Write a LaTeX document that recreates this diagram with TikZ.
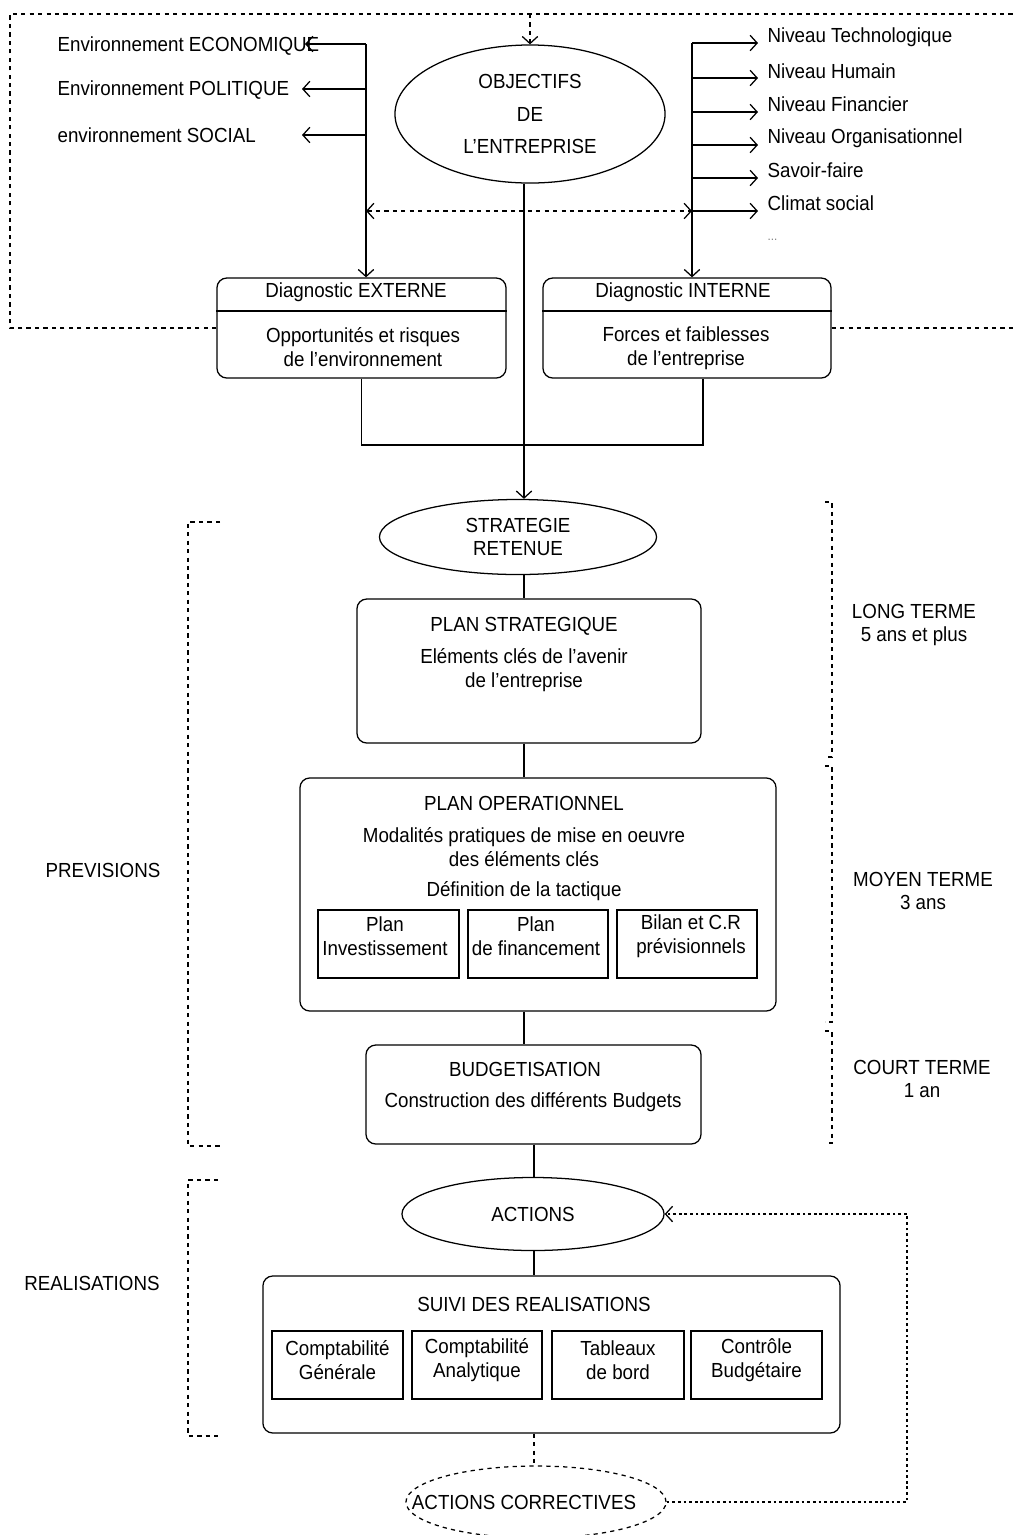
\documentclass[tikz,border=0pt]{standalone}
\usepackage{fontspec}
\setmainfont{Liberation Sans}[FakeStretch=0.92]
\usetikzlibrary{arrows.meta,shapes.geometric,calc}

\begin{document}
\begin{tikzpicture}[x=0.025cm, y=-0.025cm, line width=0.9pt,
    >={Straight Barb[length=5pt,width=11pt]},
    font=\fontsize{14.5}{17}\selectfont,
    boite/.style={draw, rounded corners=7pt, inner sep=0pt},
    cadre/.style={draw, inner sep=0pt},
    bulle/.style={draw, ellipse, inner sep=0pt, align=center},
    txt/.style={align=center, inner sep=0pt},
    tiret/.style={dash pattern=on 3pt off 3pt},
    pointille/.style={dash pattern=on 2pt off 2pt}]
        \useasboundingbox (0,0) rectangle (1013,1535);
        % axes of the central column
        \coordinate (axe) at (524,0);
        \coordinate (axeb) at (534,0);
        \coordinate (haut) at (0,14);
        \coordinate (milieu) at (0,211);
        \coordinate (jn) at (524,445);
        \coordinate (retour) at (907,0);

        % objectives and diagnostics
        \node[bulle, minimum width=6.75cm, minimum height=3.45cm] (obj) at (530,114) {OBJECTIFS\\[6pt]DE\\[6pt]L'ENTREPRISE};
        \node[boite, minimum width=7.225cm, minimum height=2.5cm] (ext) at (361.5,328) {};
        \node[boite, minimum width=7.2cm, minimum height=2.5cm] (int) at (687,328) {};
        \coordinate (sep) at (0,311);
        \draw (ext.west |- sep) -- (ext.east |- sep);
        \draw (int.west |- sep) -- (int.east |- sep);
        \node[txt] (exttitre) at (356,292) {Diagnostic EXTERNE};
        \node[txt] (extcorps) at (363,347) {Opportunités et risques\\de l'environnement};
        \node[txt] (inttitre) at (683,292) {Diagnostic INTERNE};
        \node[txt] (intcorps) at (686,348) {Forces et faiblesses\\de l'entreprise};

        % environment (left)
        \node[txt, anchor=west] (env1) at (57,46) {Environnement ECONOMIQUE};
        \node[txt, anchor=west] (env2) at (57,90) {Environnement POLITIQUE};
        \node[txt, anchor=west] (env3) at (57,135) {environnement SOCIAL};
        \coordinate (g1) at (366,44);
        \coordinate (g2) at (366,89);
        \coordinate (g3) at (366,135);
        \draw[->] (g1) -- (g1 |- ext.north);
        \draw[->] (g1) -- (305,44);
        \draw[->] (g2) -- (302,89);
        \draw[->] (g3) -- (302,135);

        % levels (right)
        \node[txt, anchor=west] (niv1) at (767,37) {Niveau Technologique};
        \node[txt, anchor=west] (niv2) at (767,71) {Niveau Humain};
        \node[txt, anchor=west] (niv3) at (767,104) {Niveau Financier};
        \node[txt, anchor=west] (niv4) at (767,138) {Niveau Organisationnel};
        \node[txt, anchor=west] (niv5) at (767,170) {Savoir-faire};
        \node[txt, anchor=west] (niv6) at (767,203) {Climat social};
        \node[txt, anchor=west, text=gray, font=\small] (niv7) at (767,240) {...};
        \coordinate (d1) at (692,43);
        \draw[->] (d1) -- (d1 |- int.north);
        \draw[->] (d1) -- (758,43);
        \draw[->] (692,78) -- (758,78);
        \draw[->] (692,112) -- (758,112);
        \draw[->] (692,145) -- (758,145);
        \draw[->] (692,178) -- (758,178);
        \draw[->] (692,211) -- (758,211);
        \draw[tiret,<->] (g1 |- milieu) -- (d1 |- milieu);

        % dashed frame of the diagnosis
        \draw[tiret] (ext.west) -- (10,328) -- (10,14) -- (1013,14);
        \draw[tiret] (int.east) -- (1013,328);
        \draw[tiret,->] (obj.north |- haut) -- (obj.north);

        % strategy
        \node[bulle, minimum width=6.925cm, minimum height=1.875cm] (strat) at (518,537) {STRATEGIE\\RETENUE};
        \draw[->] (axe |- obj.south) -- (axe |- strat.north);
        \draw (ext.south) |- (jn) -| ($(int.south)+(16,0)$);

        % plans
        \node[boite, minimum width=8.6cm, minimum height=3.6cm] (pstrat) at (529,671) {};
        \node[txt] (pstrattitre) at (524,626) {PLAN STRATEGIQUE};
        \node[txt] (pstratcorps) at (524,670) {Eléments clés de l'avenir\\de l'entreprise};
        \node[boite, minimum width=11.9cm, minimum height=5.825cm] (pop) at (538,894.5) {};
        \node[txt] (poptitre) at (524,803) {PLAN OPERATIONNEL};
        \node[txt] (popcorps) at (524,847) {Modalités pratiques de mise en oeuvre\\des éléments clés};
        \node[txt] (poptact) at (524,891) {Définition de la tactique};
        \node[cadre, minimum width=3.525cm, minimum height=1.7cm] (pinv) at (388.5,944) {};
        \node[cadre, minimum width=3.5cm, minimum height=1.7cm] (pfin) at (538,944) {};
        \node[cadre, minimum width=3.5cm, minimum height=1.7cm] (pbil) at (687,944) {};
        \node[txt] (pinvtxt) at (385,936) {Plan\\Investissement};
        \node[txt] (pfintxt) at (536,936) {Plan\\de financement};
        \node[txt] (pbiltxt) at (691,936) {Bilan et C.R\\prévisionnels};
        \node[boite, minimum width=8.375cm, minimum height=2.475cm] (budg) at (533.5,1094.5) {};
        \node[txt] (budgtitre) at (525,1069) {BUDGETISATION};
        \node[txt] (budgcorps) at (533,1102) {Construction des différents Budgets};
        \draw (axe |- strat.south) -- (axe |- pstrat.north);
        \draw (axe |- pstrat.south) -- (axe |- pop.north);
        \draw (axe |- pop.south) -- (axe |- budg.north);

        % realisations
        \node[bulle, minimum width=6.55cm, minimum height=1.825cm] (act) at (533,1214) {ACTIONS};
        \node[boite, minimum width=14.425cm, minimum height=3.925cm] (suivi) at (551.5,1354.5) {};
        \node[txt] (suivititre) at (534,1304) {SUIVI DES REALISATIONS};
        \node[cadre, minimum width=3.275cm, minimum height=1.7cm] (cgen) at (337.5,1365) {};
        \node[cadre, minimum width=3.25cm, minimum height=1.7cm] (cana) at (477,1365) {};
        \node[cadre, minimum width=3.3cm, minimum height=1.7cm] (tab) at (618,1365) {};
        \node[cadre, minimum width=3.275cm, minimum height=1.7cm] (cbud) at (756.5,1365) {};
        \node[txt] (cgentxt) at (337.5,1360) {Comptabilité\\Générale};
        \node[txt] (canatxt) at (477,1360) {Comptabilité\\Analytique};
        \node[txt] (tabtxt) at (618,1360) {Tableaux\\de bord};
        \node[txt] (cbudtxt) at (756.5,1360) {Contrôle\\Budgétaire};
        \node[bulle, tiret, minimum width=6.5cm, minimum height=1.8cm] (corr) at (536,1502) {};
        \node[txt] (corrtxt) at (524,1502) {ACTIONS CORRECTIVES};
        \draw (axeb |- budg.south) -- (axeb |- act.north);
        \draw (axeb |- act.south) -- (axeb |- suivi.north);
        \draw[tiret] (axeb |- suivi.south) -- (axeb |- corr.north);
        \draw[pointille,->] (corr.east) -| (retour |- act.east) -- (act.east);

        % horizons
        \draw[tiret] (220,522) -- (188,522) -- (188,1146) -- (220,1146);
        \draw[tiret] (218,1180) -- (188,1180) -- (188,1436) -- (218,1436);
        \node[txt] (prev) at (103,870) {PREVISIONS};
        \node[txt] (real) at (92,1283) {REALISATIONS};
        \draw[tiret] (825,502) -- (832,502) -- (832,757) -- (825,757);
        \draw[tiret] (825,766) -- (832,766) -- (832,1022) -- (825,1022);
        \draw[tiret] (825,1031) -- (832,1031) -- (832,1143) -- (825,1143);
        \node[txt] (long) at (914,625) {LONG TERME\\5 ans et plus};
        \node[txt] (moyen) at (923,891) {MOYEN TERME\\3 ans};
        \node[txt] (court) at (922,1079) {COURT TERME\\1 an};
    \end{tikzpicture}
\end{document}
